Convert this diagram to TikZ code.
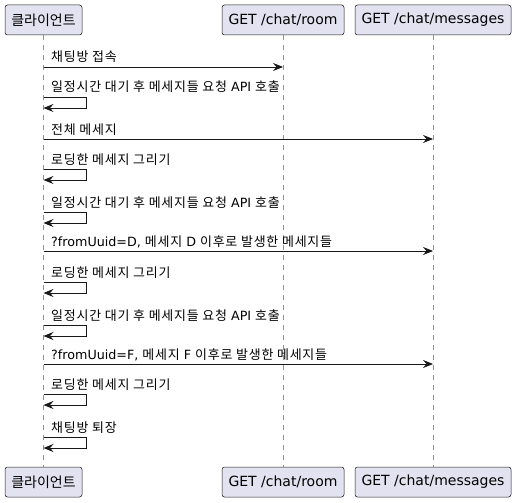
\documentclass[tikz,border=0pt]{standalone}
\usepackage{fontspec}
\setmainfont{DejaVu Sans}
\newfontfamily\krfont{Noto Sans CJK KR}[Scale=1.02,LetterSpace=6]
\newfontfamily\krhead{Noto Sans CJK KR}
\usetikzlibrary{arrows.meta}
\definecolor{boxfill}{HTML}{E2E2F0}
\definecolor{boxline}{HTML}{181818}
\definecolor{lifegray}{HTML}{909090}
\tikzset{
    party/.style={draw=boxline, fill=boxfill, line width=0.5pt, rounded corners=2.5pt,
        minimum height=30pt, inner sep=0pt, font=\fontsize{14}{16}\selectfont},
    lifeline/.style={draw=lifegray, line width=0.7pt, dash pattern=on 5pt off 5pt},
    msg/.style={draw=boxline, line width=0.8pt, -{Stealth[length=10pt,width=8pt,inset=3.5pt]}},
    msgtext/.style={anchor=base west, inner sep=0pt, font=\fontsize{12.7}{14}\selectfont}
}
\begin{document}
\begin{tikzpicture}[x=1pt,y=-1pt]
    \useasboundingbox (0,0) rectangle (517,503);

    % 참여자
    \node[party, minimum width=77pt] (client) at (43.5,20) {\krhead 클라이언트};
    \node[party, minimum width=122pt] (room) at (283,20) {GET /chat/room};
    \node[party, minimum width=156pt] (msgs) at (433,20) {GET /chat/messages};
    \node[party, minimum width=77pt] (clientB) at (43.5,482) {\krhead 클라이언트};
    \node[party, minimum width=122pt] (roomB) at (283,482) {GET /chat/room};
    \node[party, minimum width=156pt] (msgsB) at (433,482) {GET /chat/messages};

    % 생명선
    \draw[lifeline] (client) -- (clientB);
    \draw[lifeline] (room) -- (roomB);
    \draw[lifeline] (msgs) -- (msgsB);

    % 메시지
    \draw[msg] (client |- 0,67) -- (room |- 0,67);
    \node[msgtext] (t1) at (51,62) {\krfont 채팅방 접속};

    \draw[msg] (client |- 0,97) -| ++(43,11) -- (client |- 0,108);
    \node[msgtext] (t2) at (51,92) {{\krfont 일정시간 대기 후 메세지들 요청} API {\krfont 호출}};

    \draw[msg] (client |- 0,139) -- (msgs |- 0,139);
    \node[msgtext] (t3) at (51,134) {\krfont 전체 메세지};

    \draw[msg] (client |- 0,169) -| ++(43,11) -- (client |- 0,180);
    \node[msgtext] (t4) at (51,164) {\krfont 로딩한 메세지 그리기};

    \draw[msg] (client |- 0,212) -| ++(43,11) -- (client |- 0,223);
    \node[msgtext] (t5) at (51,207) {{\krfont 일정시간 대기 후 메세지들 요청} API {\krfont 호출}};

    \draw[msg] (client |- 0,251) -- (msgs |- 0,251);
    \node[msgtext] (t6) at (51,246) {?fromUuid=D, {\krfont 메세지} D {\krfont 이후로 발생한 메세지들}};

    \draw[msg] (client |- 0,282) -| ++(43,11) -- (client |- 0,293);
    \node[msgtext] (t7) at (51,277) {\krfont 로딩한 메세지 그리기};

    \draw[msg] (client |- 0,325) -| ++(43,11) -- (client |- 0,336);
    \node[msgtext] (t8) at (51,320) {{\krfont 일정시간 대기 후 메세지들 요청} API {\krfont 호출}};

    \draw[msg] (client |- 0,364) -- (msgs |- 0,364);
    \node[msgtext] (t9) at (51,359) {?fromUuid=F, {\krfont 메세지} F {\krfont 이후로 발생한 메세지들}};

    \draw[msg] (client |- 0,394) -| ++(43,11) -- (client |- 0,405);
    \node[msgtext] (t10) at (51,389) {\krfont 로딩한 메세지 그리기};

    \draw[msg] (client |- 0,437) -| ++(43,11) -- (client |- 0,448);
    \node[msgtext] (t11) at (51,432) {\krfont 채팅방 퇴장};
\end{tikzpicture}
\end{document}
